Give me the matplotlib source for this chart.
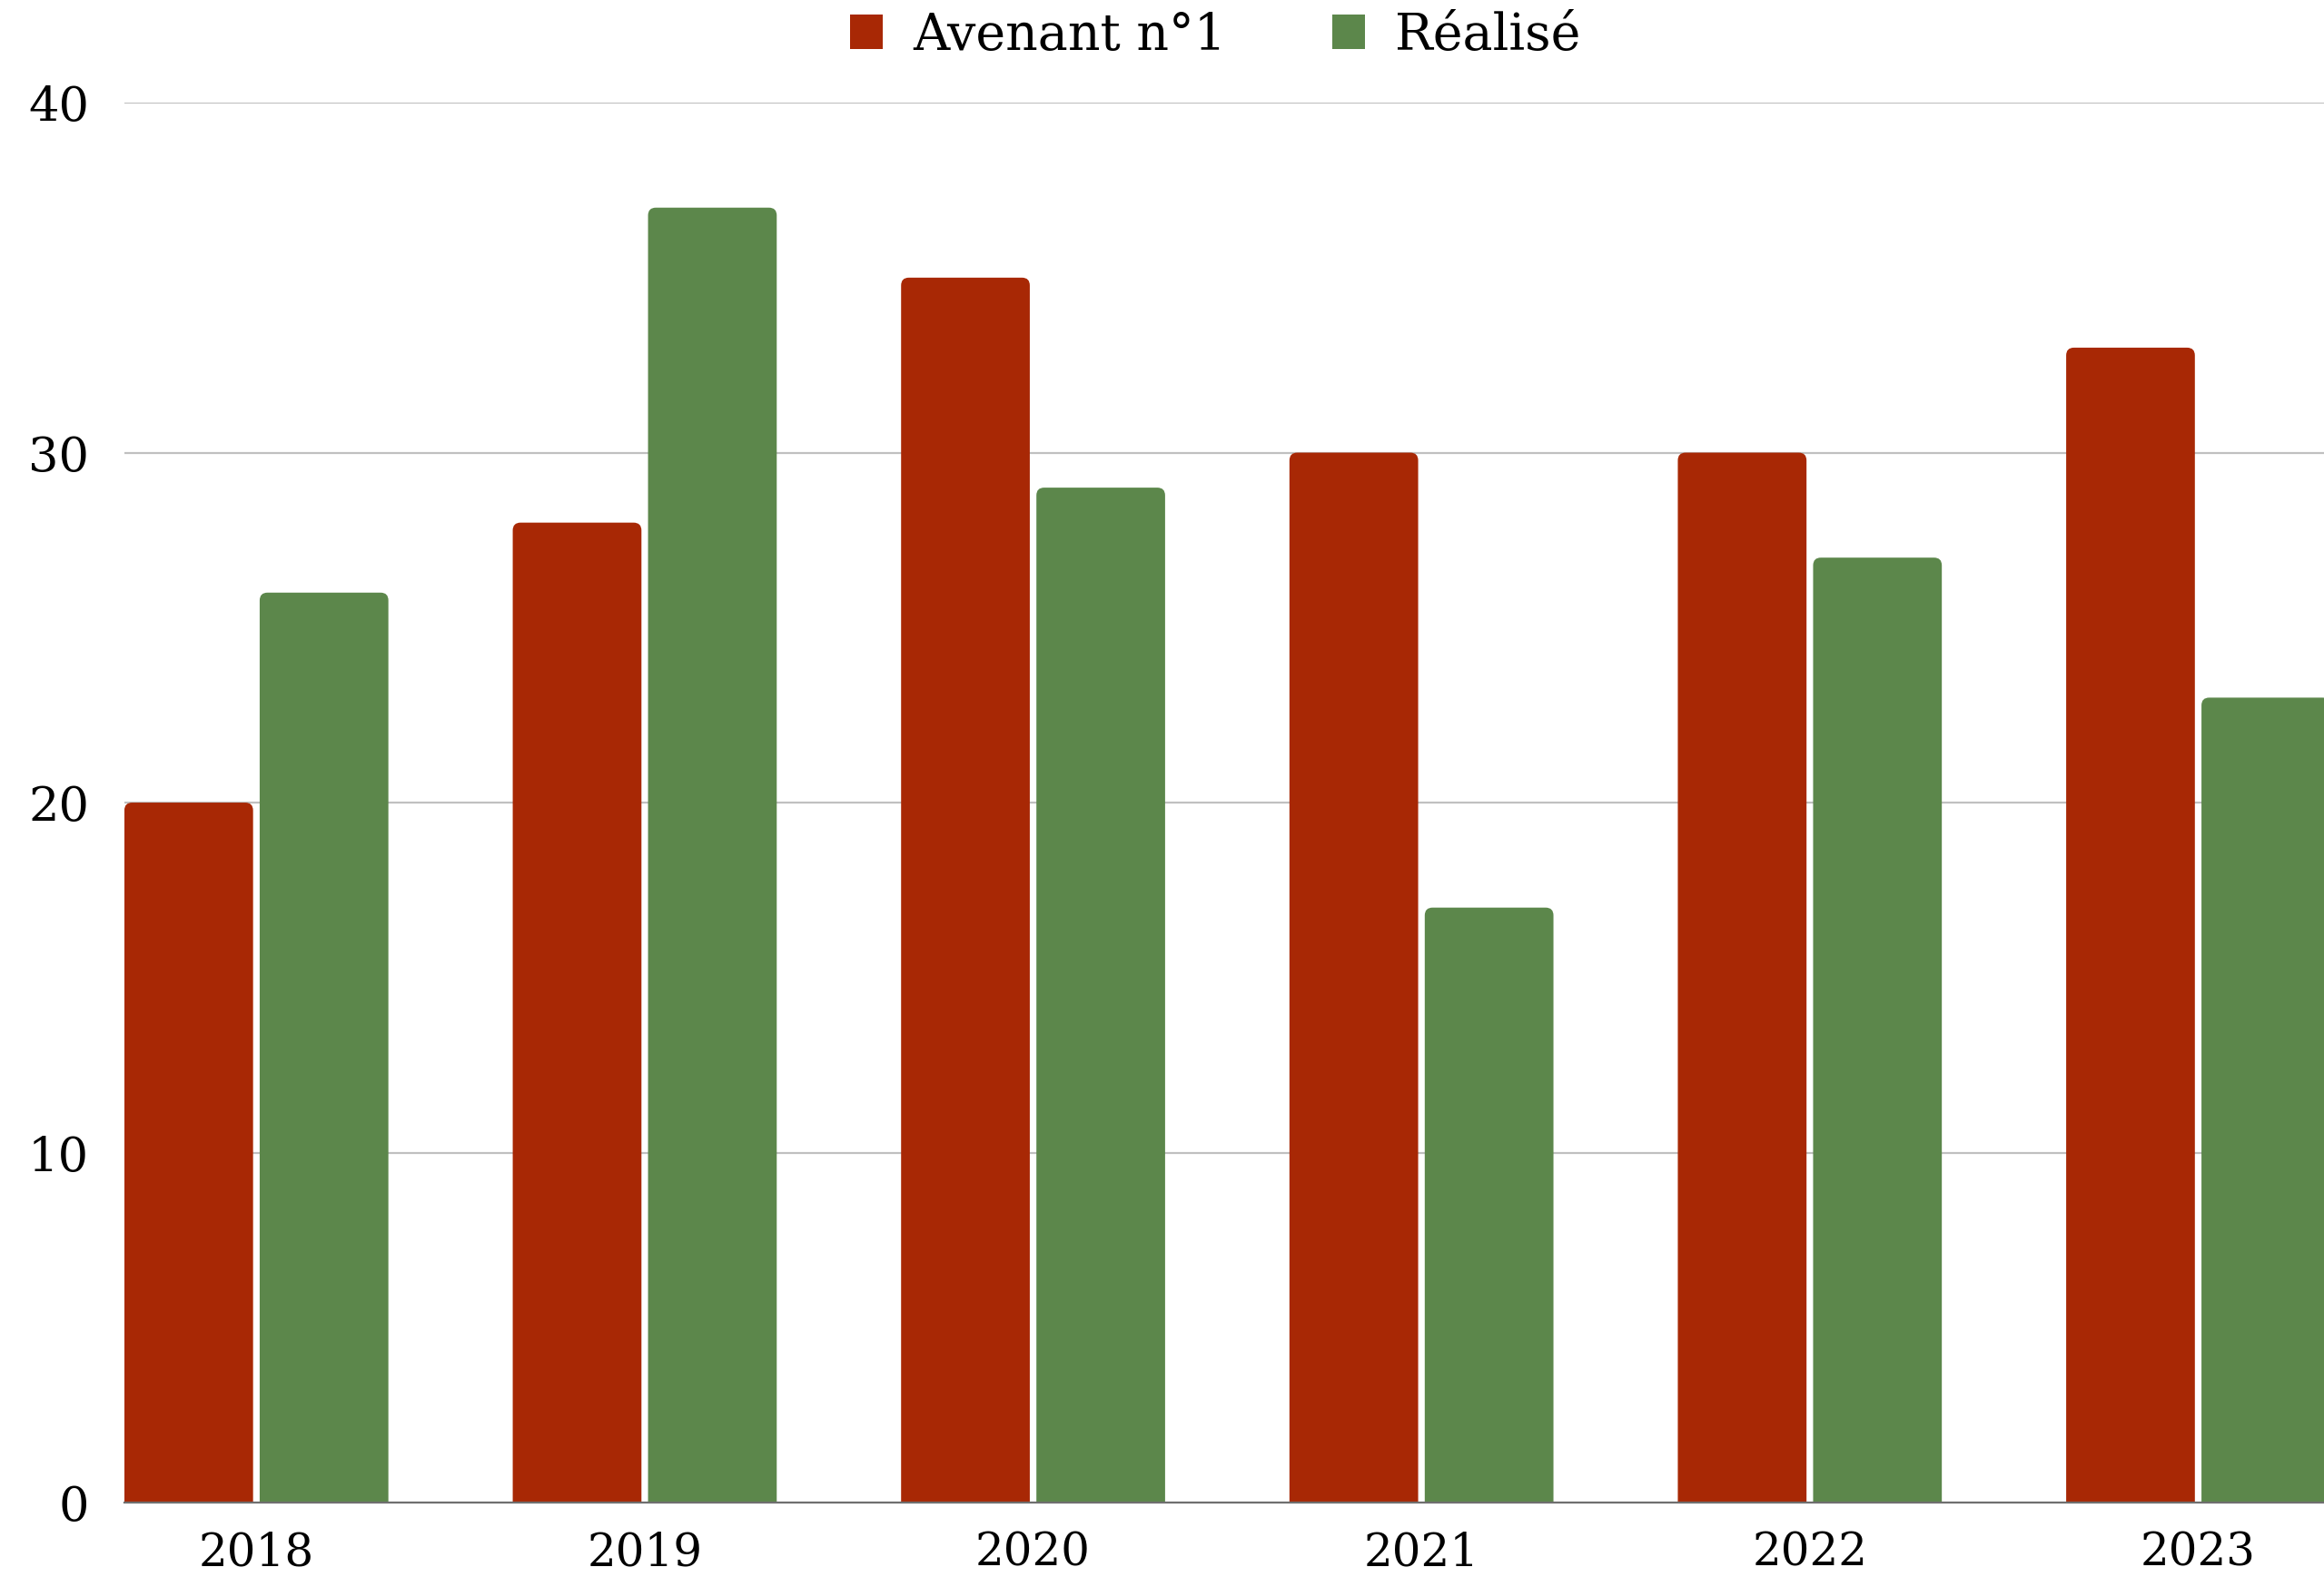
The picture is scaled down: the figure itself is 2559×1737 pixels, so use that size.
import matplotlib
matplotlib.use("Agg")
import matplotlib.pyplot as plt
from matplotlib.patches import FancyBboxPatch, Patch
import numpy as np

# years and the two series
years = ["2018", "2019", "2020", "2021", "2022", "2023"]
avenant = [20, 28, 35, 30, 30, 33]
realise = [26, 37, 29, 17, 27, 23]
labels = ["Avenant n°1", "Réalisé"]
red = "#a82805"
green = "#5c874b"

plt.rcParams['font.family'] = ['DejaVu Serif']

fig = plt.figure(figsize=(25.59, 17.37), dpi=100)
ax = fig.add_axes([0.0535, 0.0472, 0.9465, 0.8877])

x = np.arange(len(years))
w = 0.3314
gap = 0.017
off = (w + gap) / 2

b1 = ax.bar(x - off, avenant, w, color=red, zorder=3)
b2 = ax.bar(x + off, realise, w, color=green, zorder=3)

ax.set_xlim(-0.340, 5.324)
ax.set_ylim(0, 40)

# rounded tops: replace each bar by a rounded box hanging below the axis
asp = (40 / 1542.0) / (1 / 427.6)
for bars, c in [(b1, red), (b2, green)]:
    for r in bars:
        r.set_visible(False)
        p = FancyBboxPatch((r.get_x(), -2), r.get_width(), r.get_height() + 2,
                           boxstyle="round,pad=0,rounding_size=0.02",
                           mutation_aspect=asp, facecolor=c, edgecolor="none",
                           zorder=3, clip_on=True)
        ax.add_patch(p)

ax.set_yticks([0, 10, 20, 30, 40])
ax.set_xticks(x)
ax.set_xticklabels(years)
ax.tick_params(axis='y', length=0, pad=28, labelsize=38)
ax.tick_params(axis='x', length=0, pad=22, labelsize=36)
ax.grid(axis='y', color="#c0c0c0", linewidth=1.6, zorder=0)
for s in ["top", "right", "left"]:
    ax.spines[s].set_visible(False)
ax.spines["bottom"].set_color("#6f6f6f")
ax.spines["bottom"].set_linewidth(1.6)
ax.spines["bottom"].set_zorder(4)

handles = [Patch(facecolor=red, edgecolor="none"), Patch(facecolor=green, edgecolor="none")]
fig.legend(handles, labels, loc="upper center", bbox_to_anchor=(0.523, 1.022), ncol=2,
           frameon=False, fontsize=40, handlelength=0.65, handleheight=0.65,
           handletextpad=0.6, columnspacing=2.1)

plt.savefig("out.png", dpi=100)
plt.close()
